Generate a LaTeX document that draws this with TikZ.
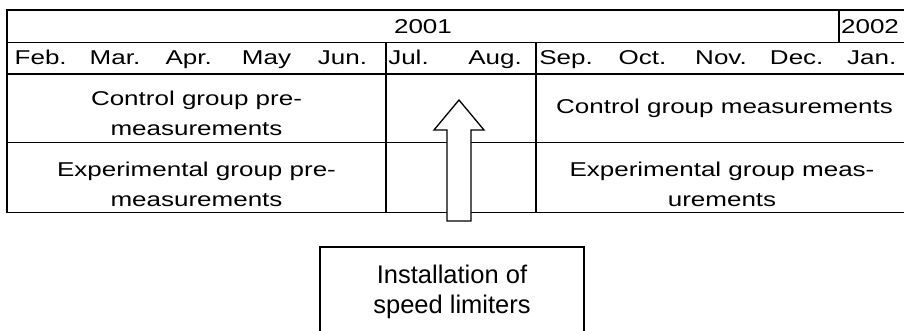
\documentclass[tikz,border=0pt]{standalone}
\usepackage{fontspec}
\usepackage{graphicx}
\setmainfont{Liberation Sans}
\newcommand{\sxt}[1]{\scalebox{1.3}[1]{#1}}
\begin{document}
\begin{tikzpicture}[x=1pt,y=-1pt,line width=1.2pt,
  tabtext/.style={font=\fontsize{20}{30.5}\selectfont,inner sep=0pt,align=center},
  mon/.style={tabtext,anchor=base},
  instbox/.style={draw,line width=1.2pt,minimum width=264pt,minimum height=89pt,
    font=\fontsize{25.5}{30}\selectfont,align=center},
  blockarrow/.style={draw,fill=white,line width=1.3pt,line join=miter}]
\clip (0,0) rectangle (904,331);
% table grid
\draw (920,10) -- (7,10) -- (7,212.5) -- (920,212.5);
\draw (7,42.3) -- (920,42.3);
\draw (7,74) -- (920,74);
\draw (7,142.5) -- (920,142.5);
\draw (386,42.3) -- (386,212.5);
\draw (536,42.3) -- (536,212.5);
\draw (839,10) -- (839,42.3);
% years
\node[mon] (y2001) at (423,34) {\sxt{2001}};
\node[mon] (y2002) at (870,34) {\sxt{2002}};
% months
\node[mon] (feb) at (40.7,64.3) {\sxt{Feb.}};
\node[mon] (mar) at (115,64.3) {\sxt{Mar.}};
\node[mon] (apr) at (188.7,64.3) {\sxt{Apr.}};
\node[mon] (may) at (266.5,64.3) {\sxt{May}};
\node[mon] (jun) at (342.5,64.3) {\sxt{Jun.}};
\node[mon] (jul) at (408.5,64.3) {\sxt{Jul.}};
\node[mon] (aug) at (495,64.3) {\sxt{Aug.}};
\node[mon] (sep) at (566,64.3) {\sxt{Sep.}};
\node[mon] (oct) at (642.5,64.3) {\sxt{Oct.}};
\node[mon] (nov) at (721,64.3) {\sxt{Nov.}};
\node[mon] (dec) at (796.7,64.3) {\sxt{Dec.}};
\node[mon] (jan) at (871.7,64.3) {\sxt{Jan.}};
% group rows
\node[tabtext] (cpre) at (196.5,113.2) {\sxt{Control group pre-}\\\sxt{measurements}};
\node[tabtext] (epre) at (196.5,184.5) {\sxt{Experimental group pre-}\\\sxt{measurements}};
\node[mon] (cmeas) at (724.5,113.3) {\sxt{Control group measurements}};
\node[tabtext] (emeas) at (722,184.5) {\sxt{Experimental group meas-}\\\sxt{urements}};
% block arrow
\draw[blockarrow] (447,221) -- (447,130) -- (434,130) -- (459,100) -- (484,130)
  -- (471,130) -- (471,221) -- cycle;
% installation box
\node[instbox] (inst) at (452,291.5) {Installation of\\speed limiters};
\end{tikzpicture}
\end{document}
